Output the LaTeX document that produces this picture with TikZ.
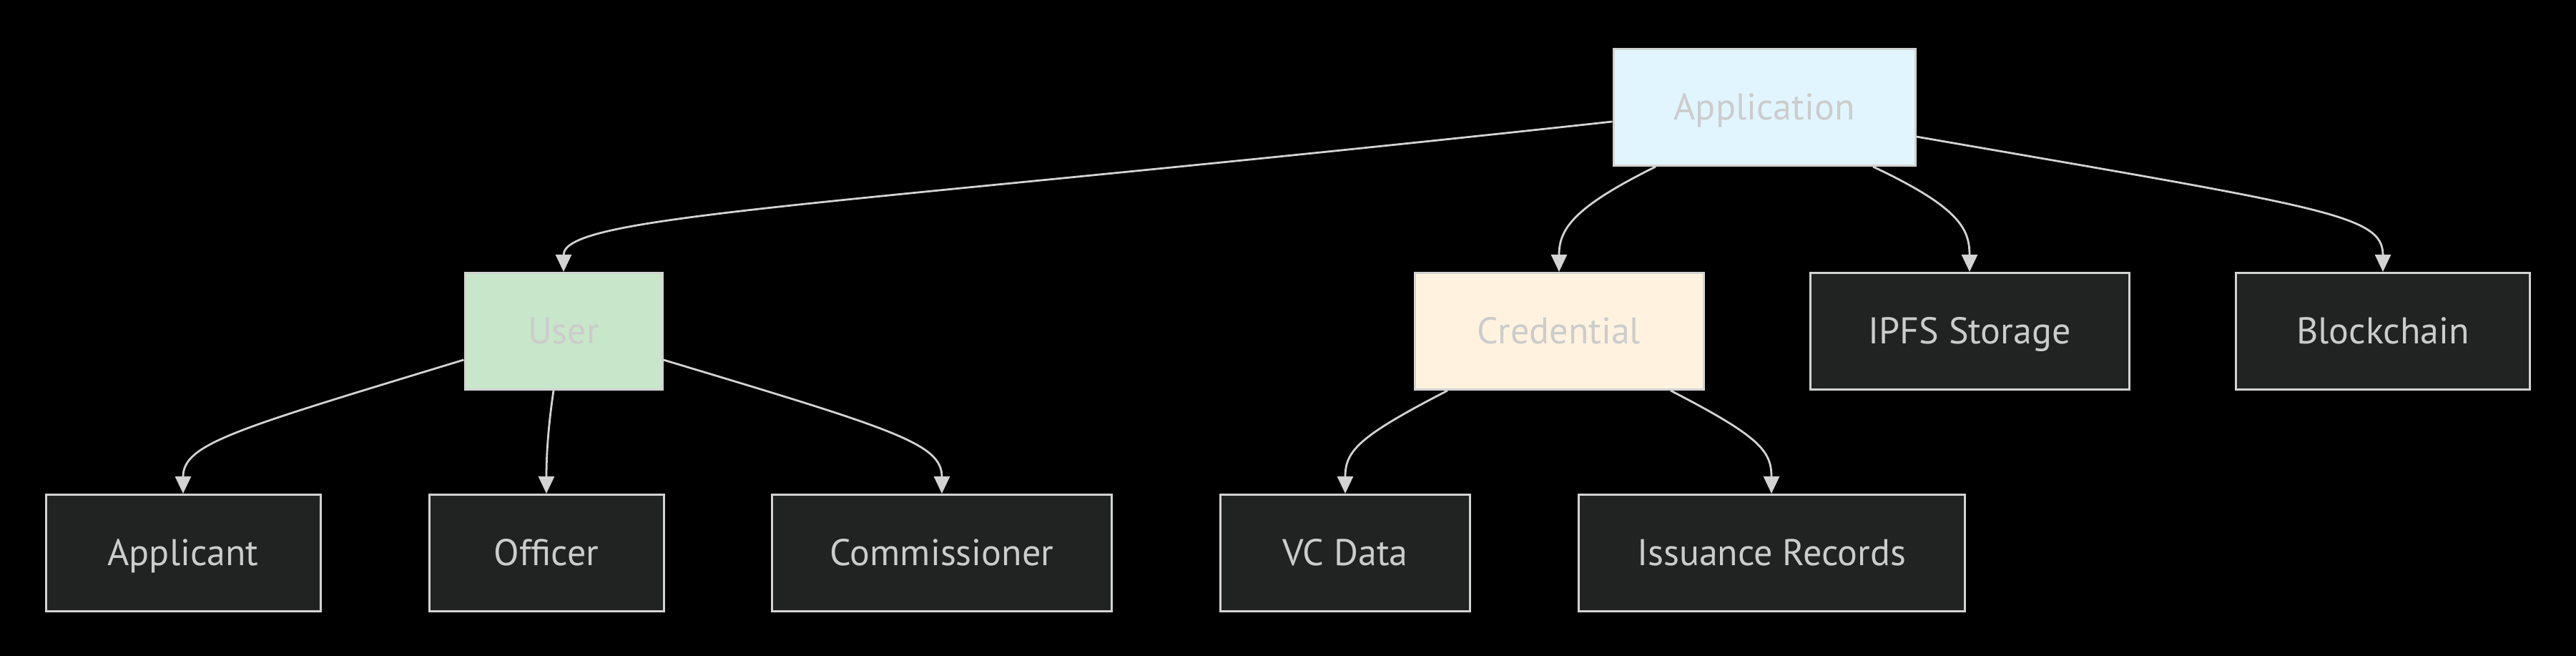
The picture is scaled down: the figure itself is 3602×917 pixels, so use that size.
\documentclass[tikz,border=0pt]{standalone}
\usepackage{fontspec}
\setmainfont{PT Sans}
\usepackage{tikz}
\usetikzlibrary{shapes,arrows.meta,positioning,calc}
\usepackage{xcolor}
\definecolor{edgegray}{HTML}{D3D3D3}
\definecolor{labelgray}{HTML}{CCCCCC}
\definecolor{boxdark}{HTML}{212322}
\definecolor{appblue}{HTML}{E1F5FE}
\definecolor{usergreen}{HTML}{C8E6C9}
\definecolor{credcream}{HTML}{FFF3E0}

\begin{document}
\begin{tikzpicture}[x=0.25pt, y=-0.25pt,
    box/.style={draw=edgegray, line width=0.75pt, fill=boxdark, text=labelgray,
                minimum height=40.75pt, inner sep=0pt, text height=10.8pt, text depth=1.8pt,
                font=\fontsize{13}{15}\selectfont},
    link/.style={draw=edgegray, line width=0.7pt, -{Triangle[length=6pt,width=5.5pt]}}]
                    \fill[black] (0,0) rectangle (3602,917);
                    \useasboundingbox (0,0) rectangle (3602,917);
                    % top level
                    \node[box, fill=appblue, minimum width=105.5pt] (app) at (2467,150) {Application};
                    % second level
                    \node[box, fill=usergreen, minimum width=69pt] (user) at (788,463) {User};
                    \node[box, fill=credcream, minimum width=101pt] (cred) at (2180,463) {Credential};
                    \node[box, minimum width=111.5pt] (ipfs) at (2754,463) {IPFS Storage};
                    \node[box, minimum width=102.75pt] (chain) at (3332,463) {Blockchain};
                    % third level
                    \node[box, minimum width=96pt] (applicant) at (256,773) {Applicant};
                    \node[box, minimum width=82pt] (officer) at (764,773) {Officer};
                    \node[box, minimum width=118.75pt] (commish) at (1317,773) {Commissioner};
                    \node[box, minimum width=87.25pt] (vcdata) at (1881,773) {VC Data};
                    \node[box, minimum width=135pt] (issuance) at (2477,773) {Issuance Records};
                    % edges
                    \draw[link] (app.west |- 0,170) .. controls (1150,290) and (788,300) .. (user.north);
                    \draw[link] (app.south -| 2315,0) .. controls (2200,290) and (2180,320) .. (cred.north);
                    \draw[link] (app.south -| 2619,0) .. controls (2740,290) and (2754,320) .. (ipfs.north);
                    \draw[link] (app.east |- 0,191) .. controls (3250,290) and (3332,300) .. (chain.north);
                    \draw[link] (user.west |- 0,503) .. controls (330,600) and (256,620) .. (applicant.north);
                    \draw[link] (user.south -| 774,0) .. controls (766,600) and (764,640) .. (officer.north);
                    \draw[link] (user.east |- 0,503) .. controls (1250,600) and (1317,620) .. (commish.north);
                    \draw[link] (cred.south -| 2024,0) .. controls (1900,610) and (1881,630) .. (vcdata.north);
                    \draw[link] (cred.south -| 2336,0) .. controls (2460,610) and (2477,630) .. (issuance.north);
                \end{tikzpicture}
\end{document}
